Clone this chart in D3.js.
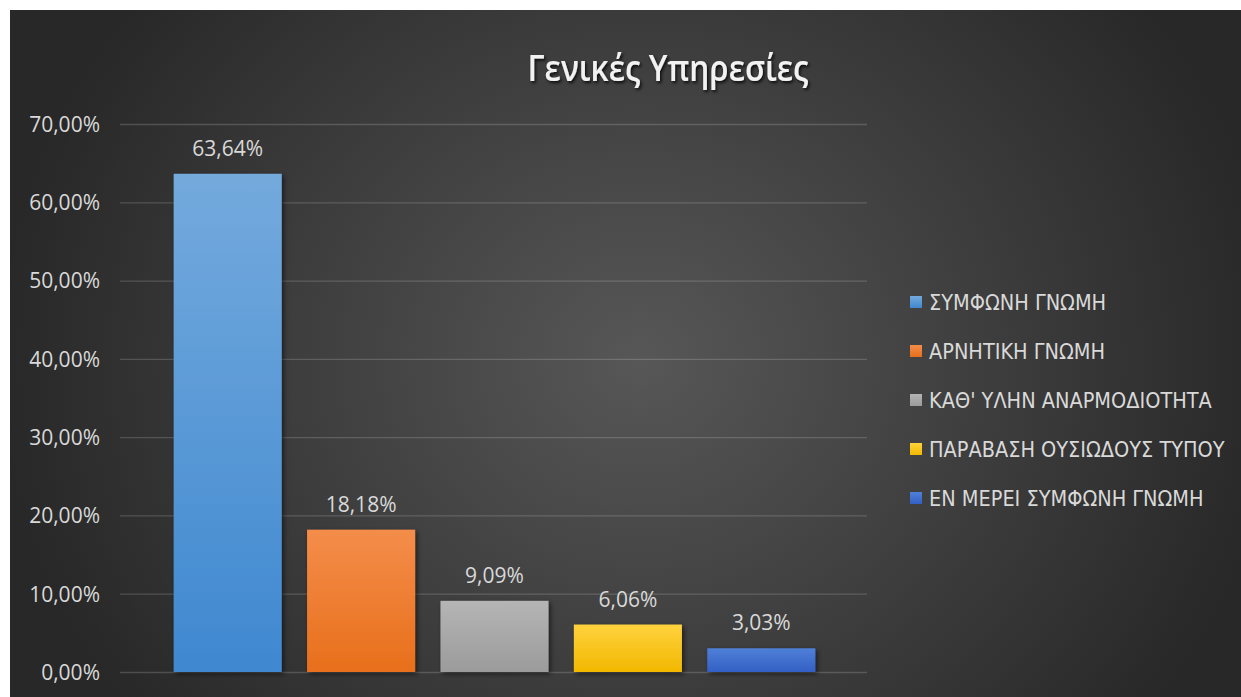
<!DOCTYPE html>
<html>
<head>
<meta charset="utf-8">
<script src="https://cdn.jsdelivr.net/npm/d3@7"></script>
<style>
  html, body { margin: 0; padding: 0; background: #fff; }
  svg { display: block; }
</style>
</head>
<body>
<svg id="chart" width="1241" height="697"></svg>
<script>
// ── Data ──────────────────────────────────────────────────────────────────────
const categories = [
  'ΣΥΜΦΩΝΗ ΓΝΩΜΗ',
  'ΑΡΝΗΤΙΚΗ ΓΝΩΜΗ',
  'ΚΑΘ\' ΥΛΗΝ ΑΝΑΡΜΟΔΙΟΤΗΤΑ',
  'ΠΑΡΑΒΑΣΗ ΟΥΣΙΩΔΟΥΣ ΤΥΠΟΥ',
  'ΕΝ ΜΕΡΕΙ ΣΥΜΦΩΝΗ ΓΝΩΜΗ'
];
const values = [63.64, 18.18, 9.09, 6.06, 3.03];
const yTicks = [0, 10, 20, 30, 40, 50, 60, 70];
const title = 'Γενικές Υπηρεσίες';

// top / bottom colours of each bar gradient
const colorsTop    = ['#74aadd', '#f48d4a', '#b5b5b5', '#ffd23e', '#4f80d8'];
const colorsBottom = ['#3f88d0', '#e86f1b', '#9b9b9b', '#f2b800', '#3260c4'];

// ── Layout ────────────────────────────────────────────────────────────────────
const W = 1241, H = 697;
const frame = { x: 10, y: 10 };
const plot = { left: 120, right: 867, top: 124, bottom: 672 };
const font = '"Open Sans", "Noto Sans", sans-serif';
const narrow = '"Liberation Sans Narrow", "DejaVu Sans Condensed", "Open Sans", sans-serif';
const textCol = '#d9d9d9';
const fmt = v => v.toFixed(2).replace('.', ',') + '%';

const svg = d3.select('#chart');
const defs = svg.append('defs');

// background radial gradient
const bg = defs.append('radialGradient')
  .attr('id', 'bg')
  .attr('gradientUnits', 'userSpaceOnUse')
  .attr('cx', 640).attr('cy', 360).attr('r', 640)
  .attr('gradientTransform', 'translate(640,360) scale(1,0.9) translate(-640,-360)');
bg.append('stop').attr('offset', '0%').attr('stop-color', '#575757');
bg.append('stop').attr('offset', '100%').attr('stop-color', '#282828');

svg.append('rect')
  .attr('x', frame.x).attr('y', frame.y)
  .attr('width', W - frame.x).attr('height', H - frame.y)
  .attr('fill', 'url(#bg)');

// bar gradients
values.forEach((v, i) => {
  const lg = defs.append('linearGradient')
    .attr('id', 'bar' + i)
    .attr('x1', 0).attr('y1', 0).attr('x2', 0).attr('y2', 1);
  lg.append('stop').attr('offset', '0%').attr('stop-color', colorsTop[i]);
  lg.append('stop').attr('offset', '100%').attr('stop-color', colorsBottom[i]);
});

// shadows
const sh = defs.append('filter').attr('id', 'shadow')
  .attr('x', '-20%').attr('y', '-20%').attr('width', '140%').attr('height', '140%');
sh.append('feDropShadow')
  .attr('dx', 2).attr('dy', 2).attr('stdDeviation', 2.5)
  .attr('flood-color', '#000').attr('flood-opacity', 0.55);

const tsh = defs.append('filter').attr('id', 'tshadow')
  .attr('x', '-10%').attr('y', '-20%').attr('width', '120%').attr('height', '150%');
tsh.append('feDropShadow')
  .attr('dx', 1.5).attr('dy', 2).attr('stdDeviation', 1.5)
  .attr('flood-color', '#000').attr('flood-opacity', 0.8);

// ── Scales ────────────────────────────────────────────────────────────────────
const y = d3.scaleLinear()
  .domain([0, 70])
  .range([plot.bottom, plot.top]);

const x = d3.scaleBand()
  .domain(categories)
  .range([161, 828])
  .paddingInner(0.19)
  .paddingOuter(0.095);

// Grid
const grid = svg.append('g')
  .attr('transform', `translate(${plot.left},0)`)
  .call(d3.axisLeft(y).tickValues(yTicks).tickSize(-(plot.right - plot.left)).tickFormat(''));
grid.select('.domain').remove();
grid.selectAll('.tick line')
  .attr('stroke', '#ffffff').attr('stroke-opacity', 0.17).attr('stroke-width', 1.3);

// Y axis labels
const yAxis = svg.append('g')
  .attr('transform', `translate(100,0)`)
  .call(d3.axisLeft(y).tickValues(yTicks).tickSize(0).tickPadding(0).tickFormat(fmt));
yAxis.select('.domain').remove();
yAxis.selectAll('text')
  .attr('fill', textCol)
  .attr('font-family', font)
  .attr('font-size', 21)
  .attr('dy', '0.35em');

// Bars
svg.append('g').selectAll('rect')
  .data(values)
  .join('rect')
  .attr('x', (d, i) => x(categories[i]))
  .attr('width', x.bandwidth())
  .attr('y', d => y(d))
  .attr('height', d => y(0) - y(d))
  .attr('fill', (d, i) => `url(#bar${i})`)
  .attr('filter', 'url(#shadow)');

// Data labels
svg.append('g').selectAll('text')
  .data(values)
  .join('text')
  .attr('x', (d, i) => x(categories[i]) + x.bandwidth() / 2)
  .attr('y', d => y(d) - 18)
  .attr('text-anchor', 'middle')
  .attr('fill', textCol)
  .attr('font-family', font)
  .attr('font-size', 21)
  .text(fmt);

// Title
svg.append('text')
  .attr('x', 668).attr('y', 81)
  .attr('text-anchor', 'middle')
  .attr('fill', '#f2f2f2')
  .attr('font-family', font)
  .attr('font-weight', 600)
  .attr('font-size', 36)
  .attr('textLength', 281)
  .attr('lengthAdjust', 'spacingAndGlyphs')
  .attr('filter', 'url(#tshadow)')
  .text(title);

// Legend
const legend = svg.append('g')
  .attr('transform', 'translate(910,302)');

const item = legend.selectAll('g')
  .data(categories)
  .join('g')
  .attr('transform', (d, i) => `translate(0,${i * 49})`);

item.append('rect')
  .attr('x', 0).attr('y', -6)
  .attr('width', 12).attr('height', 12)
  .attr('fill', (d, i) => `url(#bar${i})`);

item.append('text')
  .attr('x', 19).attr('dy', '0.35em')
  .attr('fill', textCol)
  .attr('font-family', narrow)
  .attr('font-size', 21.5)
  .text(d => d);
</script>
</body>
</html>
